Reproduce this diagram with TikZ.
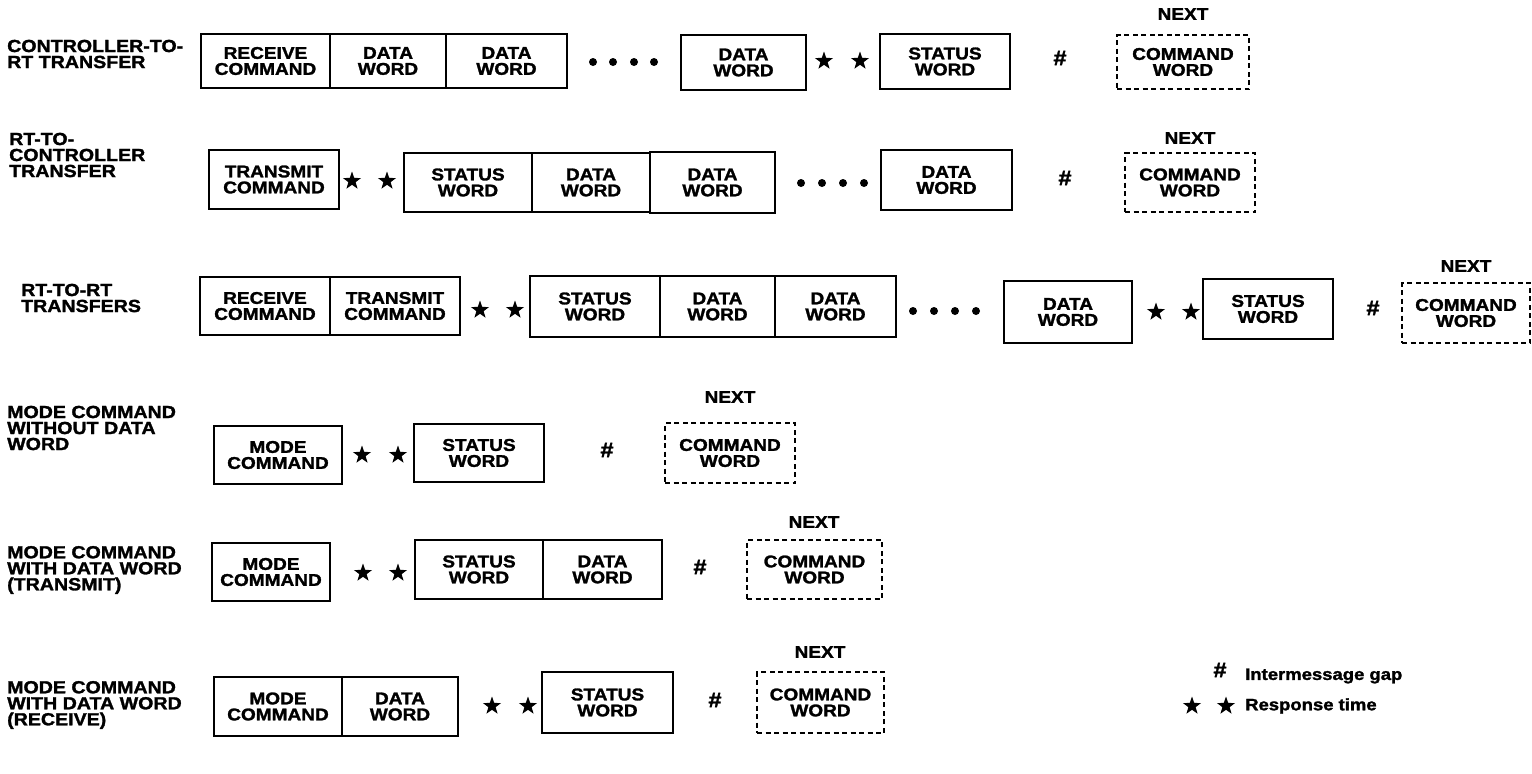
\documentclass[tikz,border=0pt]{standalone}
\usepackage{fontspec}
\newfontfamily\hv{Liberation Sans}[FakeStretch=1.12,FakeBold=1.6]
\usetikzlibrary{shapes.geometric}
\tikzset{
  txt/.style={font=\hv\bfseries\fontsize{17}{16}\selectfont, align=center, inner sep=0pt, outer sep=0pt},
  wbox/.style={txt, draw, line width=2pt, rectangle},
  nbox/.style={txt, draw, line width=1.8pt, dash pattern=on 5pt off 3.5pt, rectangle},
  lbl/.style={font=\hv\bfseries\fontsize{17.5}{16}\selectfont, align=left, inner sep=0pt, anchor=west},
  nxt/.style={font=\hv\bfseries\fontsize{17}{15}\selectfont, inner sep=0pt},
  hsh/.style={font=\hv\bfseries\fontsize{21}{21}\selectfont, inner sep=0pt},
  starn/.style={star, star points=5, star point ratio=2.5, fill=black, draw=none, minimum size=19pt, inner sep=0pt},
  dotn/.style={circle, fill=black, minimum size=8pt, inner sep=0pt},
  leg/.style={font=\hv\bfseries\fontsize{16.5}{15}\selectfont, inner sep=0pt, anchor=west}
}
\newcommand\wb[7][wbox]{\node[#1,minimum width={(#5-#3)*1pt},minimum height={(#6-#4)*1pt}] (#2) at ({(#3+#5)/2},{(#4+#6)/2}) {#7};}
\begin{document}
\begin{tikzpicture}[x=1pt,y=-1pt]
\useasboundingbox[fill=white] (0,0) rectangle (1532,774);
% ---------- Row 1
\node[lbl] (l1) at (7,54) {CONTROLLER-TO-\\RT TRANSFER};
\wb{b11}{201}{34}{330}{88}{RECEIVE\\COMMAND}
\wb{b12}{330}{34}{446}{88}{DATA\\WORD}
\wb{b13}{446}{34}{567}{88}{DATA\\WORD}
\node[dotn] (d11) at (593,62) {};
\node[dotn] (d12) at (613,62) {};
\node[dotn] (d13) at (634,62) {};
\node[dotn] (d14) at (654,62) {};
\wb{b14}{681}{35}{806}{90}{DATA\\WORD}
\node[starn] (s11) at (824,61) {};
\node[starn] (s12) at (860,61) {};
\wb{b15}{880}{34}{1010}{89}{STATUS\\WORD}
\node[hsh] (h1) at (1060,58) {\#};
\wb[nbox]{n1}{1117}{35}{1249}{89}{COMMAND\\WORD}
\node[nxt] (x1) at (1183,14) {NEXT};
% ---------- Row 2
\node[lbl] (l2) at (9,155) {RT-TO-\\CONTROLLER\\TRANSFER};
\wb{b21}{209}{150}{339}{209}{TRANSMIT\\COMMAND}
\node[starn] (s21) at (352,181) {};
\node[starn] (s22) at (387,181) {};
\wb{b22}{404}{153}{532}{212}{STATUS\\WORD}
\wb{b23}{532}{153}{650}{212}{DATA\\WORD}
\wb{b24}{650}{152}{775}{213}{DATA\\WORD}
\node[dotn] (d21) at (801,183) {};
\node[dotn] (d22) at (822,183) {};
\node[dotn] (d23) at (843,183) {};
\node[dotn] (d24) at (864,183) {};
\wb{b25}{881}{150}{1012}{210}{DATA\\WORD}
\node[hsh] (h2) at (1065,178) {\#};
\wb[nbox]{n2}{1125}{153}{1255}{212}{COMMAND\\WORD}
\node[nxt] (x2) at (1190,138) {NEXT};
% ---------- Row 3
\node[lbl] (l3) at (21,298) {RT-TO-RT\\TRANSFERS};
\wb{b31}{200}{277}{330}{335}{RECEIVE\\COMMAND}
\wb{b32}{330}{277}{460}{335}{TRANSMIT\\COMMAND}
\node[starn] (s31) at (480,310) {};
\node[starn] (s32) at (515,310) {};
\wb{b33}{530}{276}{660}{337}{STATUS\\WORD}
\wb{b34}{660}{276}{775}{337}{DATA\\WORD}
\wb{b35}{775}{276}{896}{337}{DATA\\WORD}
\node[dotn] (d31) at (913,311) {};
\node[dotn] (d32) at (934,311) {};
\node[dotn] (d33) at (955,311) {};
\node[dotn] (d34) at (976,311) {};
\wb{b36}{1004}{281}{1132}{343}{DATA\\WORD}
\node[starn] (s33) at (1156,312) {};
\node[starn] (s34) at (1191,312) {};
\wb{b37}{1203}{279}{1333}{339}{STATUS\\WORD}
\node[hsh] (h3) at (1373,308) {\#};
\wb[nbox]{n3}{1402}{283}{1530}{343}{COMMAND\\WORD}
\node[nxt] (x3) at (1466,266) {NEXT};
% ---------- Row 4
\node[lbl] (l4) at (7,428) {MODE COMMAND\\WITHOUT DATA\\WORD};
\wb{b41}{214}{426}{342}{484}{MODE\\COMMAND}
\node[starn] (s41) at (362,455) {};
\node[starn] (s42) at (398,455) {};
\wb{b42}{414}{424}{544}{482}{STATUS\\WORD}
\node[hsh] (h4) at (607,450) {\#};
\wb[nbox]{n4}{665}{423}{795}{483}{COMMAND\\WORD}
\node[nxt] (x4) at (730,397) {NEXT};
% ---------- Row 5
\node[lbl] (l5) at (7,570) {MODE COMMAND\\WITH DATA WORD\\(TRANSMIT)};
\wb{b51}{212}{543}{330}{601}{MODE\\COMMAND}
\node[starn] (s51) at (363,573) {};
\node[starn] (s52) at (398,573) {};
\wb{b52}{415}{540}{543}{599}{STATUS\\WORD}
\wb{b53}{543}{540}{662}{599}{DATA\\WORD}
\node[hsh] (h5) at (700,567) {\#};
\wb[nbox]{n5}{747}{540}{882}{599}{COMMAND\\WORD}
\node[nxt] (x5) at (814,522) {NEXT};
% ---------- Row 6
\node[lbl] (l6) at (7,705) {MODE COMMAND\\WITH DATA WORD\\(RECEIVE)};
\wb{b61}{214}{677}{342}{736}{MODE\\COMMAND}
\wb{b62}{342}{677}{458}{736}{DATA\\WORD}
\node[starn] (s61) at (492,706) {};
\node[starn] (s62) at (528,706) {};
\wb{b63}{542}{672}{673}{733}{STATUS\\WORD}
\node[hsh] (h6) at (715,700) {\#};
\wb[nbox]{n6}{757}{672}{884}{733}{COMMAND\\WORD}
\node[nxt] (x6) at (820,652) {NEXT};
% ---------- Legend
\node[hsh] (lh) at (1220,670) {\#};
\node[leg] (lt1) at (1245,676) {Intermessage gap};
\node[starn] (ls1) at (1192,706) {};
\node[starn] (ls2) at (1226,706) {};
\node[leg] (lt2) at (1245,706) {Response time};
\end{tikzpicture}
\end{document}
